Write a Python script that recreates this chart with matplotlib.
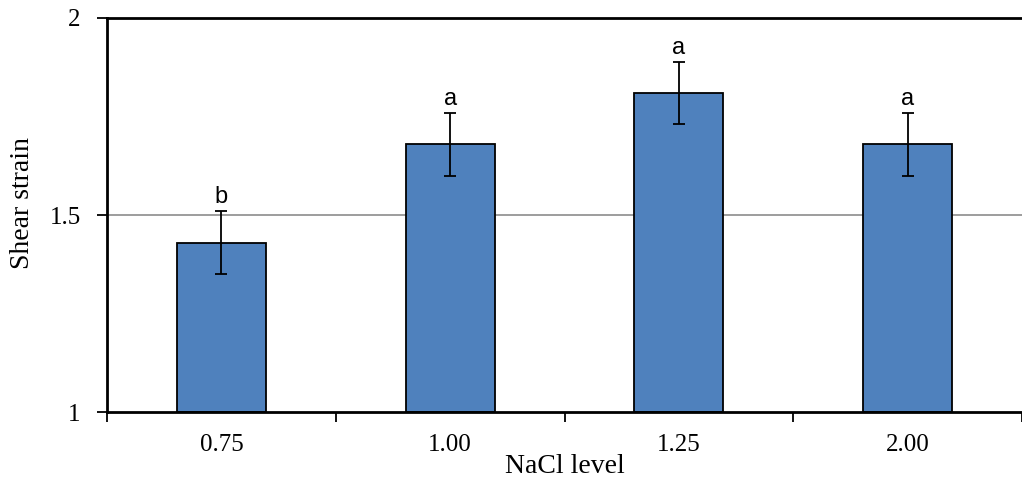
import matplotlib.pyplot as plt
import numpy as np

categories = ["0.75", "1.00", "1.25", "2.00"]
means = [1.43, 1.68, 1.81, 1.68]
errors = [0.08, 0.08, 0.078, 0.08]
letters = ["b", "a", "a", "a"]

plt.rcParams['font.family'] = ['Liberation Serif', 'DejaVu Serif']

fig = plt.figure(figsize=(10.22, 4.86), dpi=100)
ax = fig.add_axes([0.1047, 0.152, 0.8953, 0.811])

x = np.arange(len(categories))
ax.axhline(1.5, color='#8c8c8c', linewidth=1.2, zorder=0)
ax.bar(x, [m - 1 for m in means], bottom=1, width=0.39, color='#4f81bd',
       edgecolor='black', linewidth=1.3, zorder=2)
ax.errorbar(x, means, yerr=errors, fmt='none', ecolor='black', elinewidth=1.3,
            capsize=4.5, capthick=1.3, zorder=3)

for xi, m, e, lab in zip(x, means, errors, letters):
    ax.annotate(lab, (xi, m + e), xytext=(0, 2), textcoords='offset points',
                ha='center', va='bottom', fontsize=17, family=['Liberation Sans', 'DejaVu Sans'])

ax.set_ylim(1, 2)
ax.set_yticks([1, 1.5, 2])
ax.set_yticklabels(["1", "1.5", "2"], fontsize=18)
ax.set_xlim(-0.5, 3.448)
ax.set_xticks(np.arange(-0.5, 4, 1))
ax.set_xticklabels([])
ax.set_xticks(x, minor=True)
ax.set_xticklabels(categories, minor=True, fontsize=18)
ax.tick_params(axis='x', which='major', direction='out', length=7, width=1.3)
ax.tick_params(axis='x', which='minor', length=0, pad=16)
ax.tick_params(axis='y', direction='out', length=7, width=1.3, pad=12)

for side in ['left', 'bottom', 'top']:
    ax.spines[side].set_linewidth(2)
ax.spines['right'].set_visible(False)

ax.set_xlabel("NaCl level", fontsize=20, labelpad=-2)
ax.set_ylabel("Shear strain", fontsize=20)
ax.yaxis.set_label_coords(-0.079, 0.53)

fig.savefig("out.png", dpi=100)
